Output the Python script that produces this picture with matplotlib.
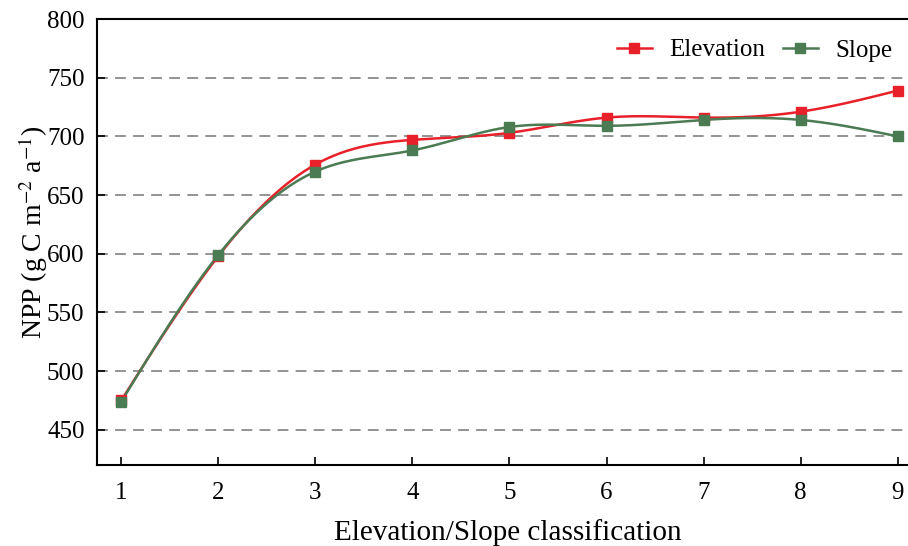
import numpy as np
import matplotlib
matplotlib.use("Agg")
import matplotlib.pyplot as plt

classes = [1, 2, 3, 4, 5, 6, 7, 8, 9]
elevation = [475, 598, 676, 697, 703, 716, 716, 721, 739]
slope = [474, 599, 670, 688, 708, 709, 714, 714, 700]
yticks = [450, 500, 550, 600, 650, 700, 750, 800]


def natural_spline(x, y, xs):
    x = np.asarray(x, float)
    y = np.asarray(y, float)
    n = len(x)
    h = np.diff(x)
    A = np.zeros((n, n))
    b = np.zeros(n)
    A[0, 0] = 1
    A[-1, -1] = 1
    for i in range(1, n - 1):
        A[i, i - 1] = h[i - 1]
        A[i, i] = 2 * (h[i - 1] + h[i])
        A[i, i + 1] = h[i]
        b[i] = 3 * ((y[i + 1] - y[i]) / h[i] - (y[i] - y[i - 1]) / h[i - 1])
    c = np.linalg.solve(A, b)
    bb = np.zeros(n - 1)
    d = np.zeros(n - 1)
    for i in range(n - 1):
        bb[i] = (y[i + 1] - y[i]) / h[i] - h[i] * (2 * c[i] + c[i + 1]) / 3
        d[i] = (c[i + 1] - c[i]) / (3 * h[i])
    idx = np.clip(np.searchsorted(x, xs) - 1, 0, n - 2)
    dx = xs - x[idx]
    return y[idx] + bb[idx] * dx + c[idx] * dx ** 2 + d[idx] * dx ** 3


plt.rcParams['font.family'] = ['Liberation Serif', 'DejaVu Serif']
plt.rcParams['mathtext.fontset'] = 'stix'

fig = plt.figure(figsize=(9.08, 5.46), dpi=100)
ax_w = 1 - 97 / 908 + 0.01
ax = fig.add_axes([97 / 908, 1 - 465 / 546, ax_w, (465 - 19) / 546])

red = '#E8202A'
green = '#4B7B52'
xs = np.linspace(1, 9, 400)

ax.plot(xs, natural_spline(classes, elevation, xs), color=red, lw=1.8, zorder=3)
ax.plot(classes, elevation, 's', color=red, ms=6.5, zorder=4)
ax.plot(xs, natural_spline(classes, slope, xs), color=green, lw=1.8, zorder=3)
ax.plot(classes, slope, 's', color=green, ms=6.5, zorder=4)

ax.plot([], [], '-s', color=red, lw=1.8, ms=6.5, label='Elevation')
ax.plot([], [], '-s', color=green, lw=1.8, ms=6.5, label='Slope')

for yv in yticks[:-1]:
    ax.axhline(yv, color='#8a8a8a', lw=1.3, ls=(0, (6, 4)), zorder=1)

ax.set_xlim(0.75, 9.2)
ax.set_ylim(420, 800)
ax.set_xticks(classes)
ax.set_yticks(yticks)
ax.tick_params(direction='in', length=6, width=1.2, labelsize=18)
ax.tick_params(axis='x', pad=12)
ax.tick_params(axis='y', pad=9)
for s in ['left', 'bottom', 'top']:
    ax.spines[s].set_linewidth(1.5)
ax.spines['right'].set_visible(False)

ax.set_xlabel('Elevation/Slope classification', fontsize=21)
ax.xaxis.set_label_coords(411 / (ax_w * 908), -(519 - 465) / 446)
ax.set_ylabel(r'NPP (g C m$^{-2}$ a$^{-1}$)', fontsize=20)
ax.yaxis.set_label_coords((50 - 97) / (ax_w * 908), (465 - 232) / 446)

leg = ax.legend(loc='upper right', bbox_to_anchor=(0.994, 1.0), ncol=2, frameon=False,
                fontsize=18, handlelength=1.4, columnspacing=0.7, handletextpad=0.7,
                borderaxespad=0.4)

fig.savefig('out.png', dpi=100)
